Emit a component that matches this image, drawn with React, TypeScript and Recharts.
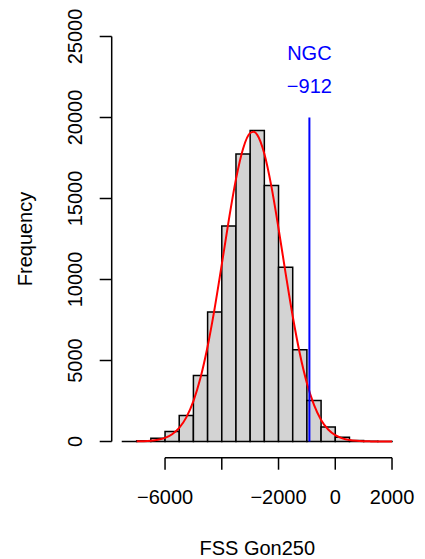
import {
  ComposedChart,
  Line,
  ReferenceArea,
  ReferenceDot,
  ReferenceLine,
  XAxis,
  YAxis,
} from "recharts";

const binStarts = [-7500, -7000, -6500, -6000, -5500, -5000, -4500, -4000, -3500, -3000, -2500, -2000, -1500, -1000, -500, 0, 500, 1000, 1500];
const binWidth = 500;
const binCounts = [5, 40, 200, 620, 1600, 4070, 8000, 13300, 17750, 19200, 15800, 10750, 5660, 2530, 890, 270, 60, 15, 3];

const curveX = [-7000, -6750, -6500, -6250, -6000, -5750, -5500, -5250, -5000, -4750, -4500, -4250, -4000, -3750, -3500, -3250, -3000, -2875, -2750, -2500, -2250, -2000, -1750, -1500, -1250, -1000, -750, -500, -250, 0, 250, 500, 750, 1000, 1250, 1500, 1750, 2000];
const curveY = [8, 20, 48, 107, 225, 448, 840, 1488, 2492, 3931, 5860, 8236, 10933, 13697, 16195, 18075, 19039, 19120, 18930, 17763, 15734, 13156, 10380, 7729, 5432, 3604, 2257, 1333, 744, 392, 195, 91, 40, 17, 7, 2, 1, 0];

const xTicks = [-6000, -4000, -2000, 0, 2000];
const xHiddenLabels = [-4000];
const yTicks = [0, 5000, 10000, 15000, 20000, 25000];

const ngcValue = -912;
const ngcLineTop = 20000;

const FONT = '"Liberation Sans", Arial, Helvetica, sans-serif';
const fmt = (v: number) => String(v).replace("-", "\u2212");

const curveData = curveX.map((x, i) => ({ x, y: curveY[i] }));

function XTick({ x, y, payload }: any) {
  if (xHiddenLabels.includes(payload.value)) return <g />;
  return (
    <text x={x} y={y + 34} textAnchor="middle" fontSize={20} fontFamily={FONT} fill="#000">
      {fmt(payload.value)}
    </text>
  );
}

function YTick({ x, y, payload }: any) {
  return (
    <text
      x={x - 18}
      y={y}
      transform={`rotate(-90, ${x - 18}, ${y})`}
      textAnchor="middle"
      fontSize={20}
      fontFamily={FONT}
      fill="#000"
    >
      {fmt(payload.value)}
    </text>
  );
}

export default function App() {
  return (
    <div style={{ position: "absolute", left: 0, top: 0, background: "#fff" }}>
      <ComposedChart
        width={425}
        height={559}
        data={curveData}
        margin={{ top: 20.3, right: 22.2, bottom: 0, left: 0 }}
      >
        <XAxis
          type="number"
          dataKey="x"
          domain={[-7880, 2380]}
          ticks={xTicks}
          allowDataOverflow
          height={101.3}
          axisLine={false}
          tickSize={12}
          tickMargin={0}
          tickLine={{ stroke: "#000", strokeWidth: 1.5 }}
          tick={<XTick />}
          label={{
            content: ({ viewBox }: any) => {
              const vb = viewBox ?? { x: 111.7, y: 457.7, width: 291.1 };
              return (
                <text x={vb.x + vb.width / 2} y={vb.y + 97.3} textAnchor="middle" fontSize={20} fontFamily={FONT} fill="#000">
                  FSS Gon250
                </text>
              );
            },
          }}
        />
        <YAxis
          type="number"
          domain={[-1000, 26000]}
          ticks={yTicks}
          allowDataOverflow
          width={111.7}
          axisLine={false}
          tickSize={12}
          tickMargin={0}
          tickLine={{ stroke: "#000", strokeWidth: 1.5 }}
          tick={<YTick />}
          label={{
            content: ({ viewBox }: any) => {
              const vb = viewBox ?? { x: 0, y: 20.3, height: 437.4 };
              const cx = vb.x + 31.7;
              const cy = vb.y + vb.height / 2;
              return (
                <text x={cx} y={cy} transform={`rotate(-90, ${cx}, ${cy})`} textAnchor="middle" fontSize={20} fontFamily={FONT} fill="#000">
                  Frequency
                </text>
              );
            },
          }}
        />
        {binStarts.map((start, i) => (
          <ReferenceArea
            key={start}
            x1={start}
            x2={start + binWidth}
            y1={0}
            y2={binCounts[i]}
            fill="#d3d3d3"
            fillOpacity={1}
            stroke="#000"
            strokeWidth={1.5}
            ifOverflow="visible"
          />
        ))}
        <Line
          type="monotone"
          dataKey="y"
          stroke="#ff0000"
          strokeWidth={2}
          dot={false}
          activeDot={false}
          isAnimationActive={false}
        />
        <ReferenceLine
          segment={[{ x: xTicks[0], y: -1000 }, { x: xTicks[xTicks.length - 1], y: -1000 }]}
          stroke="#000"
          strokeWidth={1.5}
          ifOverflow="visible"
        />
        <ReferenceLine
          segment={[{ x: -7880, y: yTicks[0] }, { x: -7880, y: yTicks[yTicks.length - 1] }]}
          stroke="#000"
          strokeWidth={1.5}
          ifOverflow="visible"
        />
        <ReferenceLine
          segment={[{ x: ngcValue, y: 0 }, { x: ngcValue, y: ngcLineTop }]}
          stroke="#0000ff"
          strokeWidth={2}
          ifOverflow="visible"
        />
        <ReferenceDot
          x={ngcValue}
          y={24000}
          r={0}
          fill="none"
          stroke="none"
          ifOverflow="visible"
          label={{ value: "NGC", position: "center", fill: "#0000ff", fontSize: 20, fontFamily: FONT }}
        />
        <ReferenceDot
          x={ngcValue}
          y={21950}
          r={0}
          fill="none"
          stroke="none"
          ifOverflow="visible"
          label={{ value: fmt(ngcValue), position: "center", fill: "#0000ff", fontSize: 20, fontFamily: FONT }}
        />
      </ComposedChart>
    </div>
  );
}
